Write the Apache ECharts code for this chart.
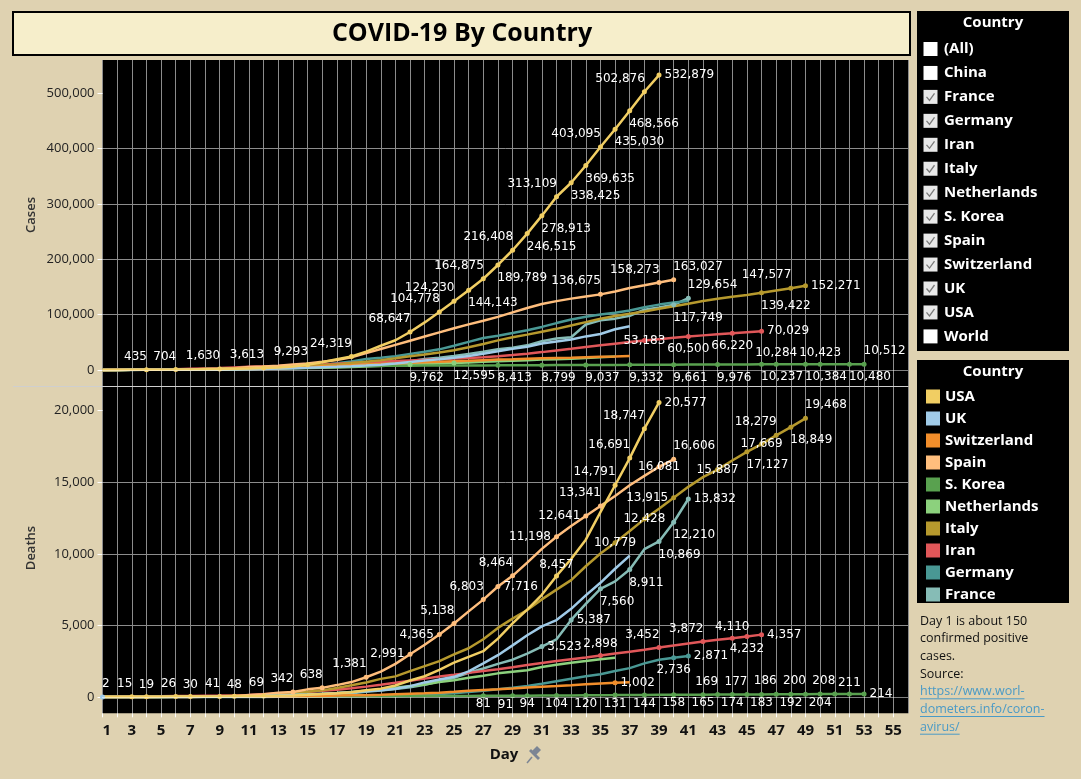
<!DOCTYPE html>
<html>
<head>
<meta charset="utf-8">
<title>COVID-19 By Country</title>
<script src="https://cdn.jsdelivr.net/npm/echarts@6.0.0/dist/echarts.min.js"></script>
<style>
  html, body { margin: 0; padding: 0; background: #dfd2b1; }
  #chart { width: 1081px; height: 779px; }
</style>
</head>
<body>
<div id="chart"></div>
<script>
// legend order (top to bottom)
const countries = ['USA', 'UK', 'Switzerland', 'Spain', 'S. Korea', 'Netherlands', 'Italy', 'Iran', 'Germany', 'France'];

// confirmed cases, index 0 = day 1
const casesUSA = [158, 221, 319, 435, 541, 704, 994, 1301, 1630, 2183, 2770, 3613, 4596, 6344, 9293, 13898, 19385, 24319, 33276, 43847, 53740, 68647, 86012, 104778, 124230, 144143, 164875, 189789, 216408, 246515, 278913, 313109, 338425, 369635, 403095, 435030, 468566, 502876, 532879];
const casesUK = [163, 206, 273, 321, 373, 456, 590, 798, 1140, 1391, 1543, 1950, 2626, 3269, 3983, 5018, 5683, 6650, 8077, 9529, 11658, 14543, 17089, 19522, 22141, 25150, 29474, 33718, 38168, 41903, 47806, 51608, 55242, 60733, 65077, 73758, 78991];
const casesSwitzerland = [214, 268, 337, 374, 491, 652, 858, 1125, 1359, 2200, 2330, 2650, 3010, 4075, 5294, 6575, 7474, 8795, 9877, 10897, 11811, 12928, 14076, 14829, 15922, 16605, 17768, 18827, 19606, 20505, 21100, 21657, 22253, 23280, 24051, 24551, 25107];
const casesSpain = [165, 222, 259, 400, 500, 673, 1073, 1695, 2277, 3146, 5232, 6391, 7798, 9942, 11826, 14769, 18077, 23000, 30500, 38000, 45500, 53000, 60500, 68000, 75500, 82500, 89000, 96000, 104118, 112065, 119199, 124500, 129000, 133000, 136675, 141942, 148220, 153222, 158273, 163027];
const casesKorea = [104, 204, 433, 602, 833, 977, 1261, 1766, 2337, 3150, 3736, 4335, 5186, 5621, 6088, 6593, 7041, 7313, 7478, 7513, 7755, 7869, 7979, 8086, 8162, 8236, 8320, 8413, 8565, 8652, 8799, 8897, 8961, 9037, 9137, 9241, 9332, 9478, 9583, 9661, 9786, 9887, 9976, 10062, 10156, 10237, 10284, 10331, 10384, 10423, 10450, 10480, 10512];
const casesNetherlands = [188, 265, 321, 382, 503, 614, 804, 959, 1135, 1413, 1705, 2051, 2460, 2994, 3631, 4204, 4749, 5560, 6412, 7431, 8603, 9762, 10866, 11750, 12595, 13614, 14697, 15723, 16627, 17851, 18803, 19580, 20549, 21762, 23097, 24413];
const casesItaly = [155, 229, 322, 453, 655, 888, 1128, 1694, 2036, 2502, 3089, 3858, 4636, 5883, 7375, 9172, 10149, 12462, 15113, 17660, 21157, 24747, 27980, 31506, 35713, 41035, 47021, 53578, 59138, 63927, 69176, 74386, 80589, 86498, 92472, 97689, 101739, 105792, 110574, 115242, 119827, 124632, 128948, 132547, 135586, 139422, 143626, 147577, 152271];
const casesIran = [139, 245, 388, 593, 978, 1501, 2336, 2922, 3513, 4747, 5823, 6566, 7161, 8042, 9000, 10075, 11364, 12729, 13938, 14991, 16169, 17361, 18407, 19644, 20610, 21638, 23049, 24811, 27017, 29406, 32332, 35408, 38309, 41495, 44605, 47593, 50468, 53183, 55743, 58226, 60500, 62589, 64586, 66220, 68192, 70029];
const casesGermany = [159, 196, 262, 482, 670, 799, 1040, 1176, 1457, 1908, 2078, 3675, 4585, 5795, 7272, 9257, 12327, 15320, 19848, 22213, 24873, 29056, 32986, 37323, 43938, 50871, 57695, 62095, 66885, 71808, 77872, 84794, 91159, 96092, 100123, 103374, 107663, 113296, 118181, 122171, 124908];
const casesFrance = [130, 191, 212, 285, 423, 613, 949, 1126, 1412, 1784, 2281, 2876, 3661, 4499, 5423, 6633, 7730, 9134, 10995, 12612, 14459, 16018, 19856, 22304, 25233, 29155, 32964, 37575, 40174, 44550, 52128, 56989, 59105, 82165, 89953, 92839, 98010, 109069, 112950, 117749, 129654];

// deaths, index 0 = day 1
const deathsUSA = [11, 12, 15, 19, 22, 26, 30, 38, 41, 48, 57, 69, 86, 109, 150, 208, 264, 327, 471, 583, 802, 1150, 1450, 1900, 2400, 2800, 3200, 4080, 5140, 6100, 7140, 8457, 9640, 10990, 12910, 14791, 16691, 18747, 20577];
const deathsUK = [2, 2, 3, 4, 6, 8, 8, 10, 21, 35, 55, 71, 104, 144, 177, 233, 281, 335, 422, 465, 578, 759, 1019, 1228, 1408, 1789, 2352, 2921, 3605, 4313, 4934, 5373, 6159, 7097, 7978, 8958, 9875];
const deathsSwitzerland = [1, 2, 2, 2, 3, 4, 4, 11, 13, 14, 14, 27, 28, 41, 54, 75, 98, 120, 122, 153, 191, 231, 264, 300, 359, 433, 488, 536, 591, 666, 715, 765, 821, 895, 948, 1002, 1036];
const deathsSpain = [1, 2, 3, 5, 10, 17, 28, 35, 54, 55, 133, 195, 289, 342, 533, 638, 831, 1043, 1381, 1772, 2311, 2991, 3647, 4365, 5138, 5982, 6803, 7716, 8464, 9387, 10348, 11198, 11947, 12641, 13341, 14045, 14792, 15447, 16081, 16606];
const deathsKorea = [1, 2, 2, 6, 8, 10, 12, 13, 13, 16, 17, 28, 28, 35, 35, 42, 44, 50, 53, 54, 60, 66, 66, 72, 75, 75, 81, 84, 91, 94, 102, 104, 111, 120, 126, 131, 139, 144, 152, 158, 162, 165, 169, 174, 177, 183, 186, 192, 200, 204, 208, 211, 214];
const deathsNetherlands = [1, 3, 3, 4, 5, 10, 12, 20, 24, 43, 58, 76, 106, 136, 179, 213, 276, 356, 434, 546, 639, 771, 864, 1039, 1173, 1339, 1487, 1651, 1766, 1867, 2101, 2248, 2396, 2511, 2643, 2737];
const deathsItaly = [3, 7, 10, 12, 17, 21, 29, 34, 52, 79, 107, 148, 197, 233, 366, 463, 631, 827, 1016, 1266, 1441, 1809, 2158, 2503, 2978, 3405, 4032, 4825, 5476, 6077, 6820, 7503, 8165, 9134, 10023, 10779, 11591, 12428, 13155, 13915, 14681, 15362, 15887, 16523, 17127, 17669, 18279, 18849, 19468];
const deathsIran = [19, 26, 34, 43, 54, 66, 77, 92, 107, 124, 145, 194, 237, 291, 354, 429, 514, 611, 724, 853, 988, 1135, 1284, 1433, 1556, 1685, 1812, 1934, 2077, 2234, 2378, 2517, 2640, 2757, 2898, 3036, 3160, 3294, 3452, 3603, 3739, 3872, 3993, 4110, 4232, 4357];
const deathsGermany = [0, 0, 0, 0, 0, 0, 0, 2, 2, 3, 6, 8, 9, 12, 16, 26, 31, 44, 67, 84, 94, 123, 157, 206, 267, 342, 433, 533, 645, 775, 920, 1107, 1275, 1444, 1584, 1810, 2016, 2349, 2607, 2736, 2871];
const deathsFrance = [2, 3, 4, 4, 7, 9, 16, 19, 30, 33, 48, 61, 79, 91, 127, 148, 175, 264, 372, 450, 562, 674, 860, 1100, 1331, 1696, 1995, 2314, 2606, 3024, 3523, 4032, 5387, 6507, 7560, 8078, 8911, 10328, 10869, 12210, 13832];

// axis tick labels
const casesTicks = [0, 100000, 200000, 300000, 400000, 500000];
const deathsTicks = [0, 5000, 10000, 15000, 20000];

// filter card
const filterItems = ['(All)', 'China', 'France', 'Germany', 'Iran', 'Italy', 'Netherlands', 'S. Korea', 'Spain', 'Switzerland', 'UK', 'USA', 'World'];
const filterChecked = [false, false, true, true, true, true, true, true, true, true, true, true, false];

const noteLines = ['Day 1 is about 150', 'confirmed positive', 'cases.', 'Source:'];
const linkLines = ['https://www.worl-', 'dometers.info/coron-', 'avirus/'];

const cases = {
    'USA': casesUSA, 'UK': casesUK, 'Switzerland': casesSwitzerland, 'Spain': casesSpain, 'S. Korea': casesKorea,
    'Netherlands': casesNetherlands, 'Italy': casesItaly, 'Iran': casesIran, 'Germany': casesGermany, 'France': casesFrance
};
const deaths = {
    'USA': deathsUSA, 'UK': deathsUK, 'Switzerland': deathsSwitzerland, 'Spain': deathsSpain, 'S. Korea': deathsKorea,
    'Netherlands': deathsNetherlands, 'Italy': deathsItaly, 'Iran': deathsIran, 'Germany': deathsGermany, 'France': deathsFrance
};

const colors = {
    'USA': '#f1ce63', 'UK': '#a0cbe8', 'Switzerland': '#f28e2b', 'Spain': '#ffbe7d', 'S. Korea': '#59a14f',
    'Netherlands': '#8cd17d', 'Italy': '#b6992d', 'Iran': '#e15759', 'Germany': '#499894', 'France': '#86bcb6'
};

// which days carry a mark label, and where the label sits
const casesLabels = {
    'USA': {lt: [4, 6, 9, 12, 15, 18, 22, 24, 25, 27, 29, 32, 35, 38], rb: [26, 28, 30, 31, 33, 34, 36, 37], right: [39]},
    'Spain': {lt: [35, 39], rt: [40]},
    'Italy': {lt: [48], rb: [46], right: [49]},
    'France': {rb: [40], rt: [41]},
    'Iran': {inside: [38], bottom: [41, 44], right: [46]},
    'Netherlands': {rb: [22, 25]},
    'S. Korea': {rb: [28, 31, 34, 37, 40, 43, 46, 49, 52], top: [47, 50], rt: [53]}
};
const deathsLabels = {
    'USA': {lt: [3, 6, 9, 12, 36, 37, 38], top: [4, 7, 10, 32], right: [39]},
    'UK': {rt: [1]},
    'Spain': {lt: [14, 16, 19, 25, 27, 29, 35], left: [22, 24, 32, 34], right: [28], inside: [39], rt: [40]},
    'Italy': {inside: [36, 38, 43, 46], left: [40], rb: [45, 48], lt: [47], rt: [49]},
    'France': {right: [31, 33, 41], rb: [35, 37, 39, 40]},
    'Germany': {bottom: [40], right: [41]},
    'Iran': {top: [35, 44], lt: [39, 42], bottom: [45], right: [46]},
    'Switzerland': {right: [36]},
    'S. Korea': {bot0: [27, 30, 32, 34, 36, 38, 40, 42, 44, 46, 48, 50], lb: [29], lt: [43, 45, 47, 49, 51], top: [52], right: [53]}
};

const LABEL_POS = {
    lt: {position: 'left', distance: 0, offset: [3, -13]},
    rt: {position: 'right', distance: 0, offset: [-3, -13]},
    rb: {position: 'right', distance: 0, offset: [-3, 13]},
    lb: {position: 'left', distance: 0, offset: [3, 9]},
    top: {position: 'top', distance: 3},
    bottom: {position: 'bottom', distance: 4},
    bot0: {position: 'bottom', distance: 0},
    left: {position: 'left', distance: 3},
    right: {position: 'right', distance: 3},
    inside: {position: 'inside'}
};

const fmt = v => v.toLocaleString('en-US');

function buildSeries(name, values, spec, idx) {
    const lookup = {};
    Object.keys(spec || {}).forEach(k => spec[k].forEach(d => { lookup[d] = k; }));
    const data = values.map((v, i) => {
        const day = i + 1;
        const pos = lookup[day];
        if (!pos) return {value: [day, v], symbol: 'none'};
        return {value: [day, v], symbol: 'circle', symbolSize: 5, label: Object.assign({show: true}, LABEL_POS[pos])};
    });
    return {
        name: name,
        type: 'line',
        xAxisIndex: idx,
        yAxisIndex: idx,
        data: data,
        showSymbol: true,
        showAllSymbol: true,
        symbol: 'circle',
        symbolSize: 5,
        lineStyle: {color: colors[name], width: 2.5},
        itemStyle: {color: colors[name]},
        label: {show: false, color: '#fff', fontFamily: 'DejaVu Sans', fontSize: 12, formatter: p => fmt(p.value[1])},
        emphasis: {disabled: true},
        silent: true
    };
}

const series = [];
// France drawn first, USA last (on top)
countries.slice().reverse().forEach(c => series.push(buildSeries(c, cases[c], casesLabels[c], 0)));
countries.slice().reverse().forEach(c => series.push(buildSeries(c, deaths[c], deathsLabels[c], 1)));

// dotted zero lines
[0, countries.length].forEach(i => {
    series[i].markLine = {
        silent: true, symbol: ['none', 'none'], label: {show: false},
        lineStyle: {color: '#fff', type: 'dotted', width: 1},
        data: [{yAxis: 0}]
    };
});

const gridLine = {show: true, showMinLine: false, showMaxLine: false, lineStyle: {color: '#8c8c8c', width: 1}};
const xSplit = {show: true, lineStyle: {color: '#8c8c8c', width: 1}};

function yAxisOf(idx, min, max, ticks) {
    return {
        gridIndex: idx, type: 'value', min: min, max: max, splitNumber: 5,
        axisLine: {show: false},
        axisTick: {show: true, length: 5, lineStyle: {color: '#fff'}, customValues: ticks},
        axisLabel: {
            color: '#222', fontFamily: 'Open Sans', fontSize: 13, margin: 8,
            customValues: ticks,
            formatter: v => fmt(v)
        },
        splitLine: gridLine
    };
}

const graphics = [];
// title card
graphics.push({type: 'rect', shape: {x: 13, y: 12, width: 897, height: 43}, style: {fill: '#f6eecb', stroke: '#000', lineWidth: 2}});
graphics.push({type: 'text', x: 462, y: 34, style: {text: 'COVID-19 By Country', fontFamily: 'Open Sans', fontWeight: 'bold', fontSize: 25, fill: '#000', align: 'center', verticalAlign: 'middle'}});
graphics.push({type: 'line', shape: {x1: 13, y1: 386.5, x2: 908, y2: 386.5}, style: {stroke: '#cfcfcf', lineWidth: 1}, z: 50});
graphics.push({type: 'text', x: 31, y: 215, rotation: Math.PI / 2, style: {text: 'Cases', fontFamily: 'Open Sans', fontWeight: 600, fontSize: 13, fill: '#333', align: 'center', verticalAlign: 'middle'}});
graphics.push({type: 'text', x: 31, y: 548, rotation: Math.PI / 2, style: {text: 'Deaths', fontFamily: 'Open Sans', fontWeight: 600, fontSize: 13, fill: '#333', align: 'center', verticalAlign: 'middle'}});
graphics.push({type: 'text', x: 504, y: 755, style: {text: 'Day', fontFamily: 'Open Sans', fontWeight: 'bold', fontSize: 15, fill: '#111', align: 'center', verticalAlign: 'middle'}});
// pin icon
graphics.push({type: 'polygon', shape: {points: [[531, 752], [537, 746], [541, 750], [535, 756]]}, style: {fill: '#7c8594'}});
graphics.push({type: 'polygon', shape: {points: [[529, 751], [538, 760], [540, 758], [531, 749]]}, style: {fill: '#7c8594'}});
graphics.push({type: 'line', shape: {x1: 527, y1: 763, x2: 532, y2: 757}, style: {stroke: '#7c8594', lineWidth: 1.5}});

// filter card
graphics.push({type: 'rect', shape: {x: 917, y: 11, width: 152, height: 340}, style: {fill: '#000'}});
graphics.push({type: 'text', x: 993, y: 23, style: {text: 'Country', fontFamily: 'Open Sans', fontWeight: 'bold', fontSize: 15, fill: '#fff', align: 'center', verticalAlign: 'middle'}});
filterItems.forEach((t, i) => {
    const cy = 49 + i * 23.95;
    graphics.push({type: 'rect', shape: {x: 923.5, y: cy - 7, width: 14, height: 14}, style: {fill: filterChecked[i] ? '#e8e8e8' : '#fff'}});
    if (filterChecked[i]) {
        graphics.push({type: 'polyline', shape: {points: [[926.5, cy], [929.5, cy + 3.5], [934.5, cy - 3.5]]}, style: {stroke: '#7a7a7a', lineWidth: 1.3, fill: null}});
    }
    graphics.push({type: 'text', x: 944, y: cy, style: {text: t, fontFamily: 'Open Sans', fontWeight: 'bold', fontSize: 15, fill: '#fff', verticalAlign: 'middle'}});
});

// colour legend card
graphics.push({type: 'rect', shape: {x: 917, y: 360, width: 152, height: 243}, style: {fill: '#000'}, z: -1});
graphics.push({type: 'text', x: 993, y: 372, style: {text: 'Country', fontFamily: 'Open Sans', fontWeight: 'bold', fontSize: 15, fill: '#fff', align: 'center', verticalAlign: 'middle'}});

const measure = document.createElement('canvas').getContext('2d');
measure.font = '12.5px "Open Sans"';
noteLines.forEach((t, i) => {
    graphics.push({type: 'text', x: 920, y: 621 + i * 17.7, style: {text: t, fontFamily: 'Open Sans', fontSize: 12.5, fill: '#111', verticalAlign: 'middle'}});
});
linkLines.forEach((t, i) => {
    const cy = 621 + (noteLines.length + i) * 17.7;
    graphics.push({type: 'text', x: 920, y: cy, style: {text: t, fontFamily: 'Open Sans', fontSize: 12.5, fill: '#4a9ac6', verticalAlign: 'middle'}});
    graphics.push({type: 'line', shape: {x1: 920, y1: cy + 7, x2: 920 + measure.measureText(t).width, y2: cy + 7}, style: {stroke: '#4a9ac6', lineWidth: 1}});
});

const option = {
    animation: false,
    backgroundColor: '#dfd2b1',
    grid: [
        {left: 102.5, top: 60, width: 805.5, height: 326.5, show: true, backgroundColor: '#000', borderWidth: 0},
        {left: 102.5, top: 387, width: 805.5, height: 326.3, show: true, backgroundColor: '#000', borderWidth: 0}
    ],
    xAxis: [
        {gridIndex: 0, type: 'value', min: 1, max: 56, interval: 1,
            axisLine: {show: false}, axisTick: {show: false}, axisLabel: {show: false}, splitLine: xSplit},
        {gridIndex: 1, type: 'value', min: 1, max: 56, interval: 1,
            axisLine: {show: false, onZero: false},
            axisTick: {show: true, length: 4, lineStyle: {color: '#fff'}},
            axisLabel: {
                color: '#111', fontFamily: 'Open Sans', fontWeight: 'bold', fontSize: 15, margin: 10,
                alignMinLabel: 'left', showMaxLabel: false,
                formatter: v => (v % 2 === 1 ? String(v) : '')
            },
            splitLine: xSplit}
    ],
    yAxis: [
        yAxisOf(0, -29800, 560200, casesTicks),
        yAxisOf(1, -1139, 21656, deathsTicks)
    ],
    legend: {
        orient: 'vertical', left: 921, top: 384, itemWidth: 14, itemHeight: 14, itemGap: 7,
        icon: 'rect', data: countries, selectedMode: false,
        textStyle: {color: '#fff', fontFamily: 'Open Sans', fontWeight: 'bold', fontSize: 15}
    },
    graphic: graphics,
    series: series
};

const chart = echarts.init(document.getElementById('chart'));
chart.setOption(option);
</script>
</body>
</html>
